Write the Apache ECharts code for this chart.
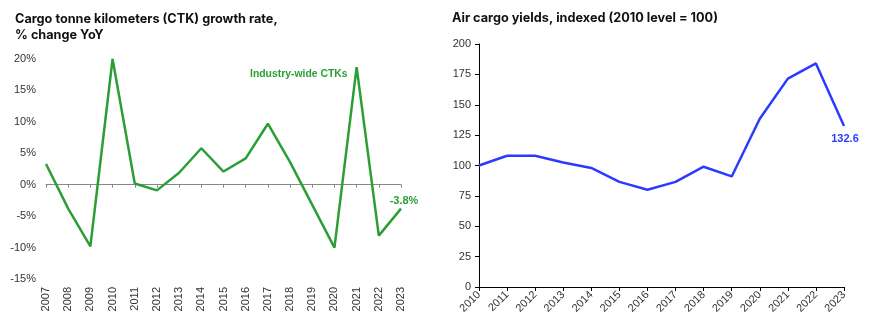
<!DOCTYPE html>
<html>
<head>
<meta charset="utf-8">
<script src="https://cdn.jsdelivr.net/npm/echarts@6/dist/echarts.min.js"></script>
<style>
html,body{margin:0;padding:0;background:#fff;}
#c{width:880px;height:326px;}
</style>
</head>
<body>
<div id="c"></div>
<script>
const ctkYears = ['2007','2008','2009','2010','2011','2012','2013','2014','2015','2016','2017','2018','2019','2020','2021','2022','2023'];
const ctkGrowth = [3.3, -3.8, -9.8, 20.0, 0.2, -0.9, 1.9, 5.8, 2.1, 4.2, 9.7, 3.6, -3.2, -10.0, 18.7, -8.1, -3.8];
const ctkTicks = [-15, 20, 5];

const yieldYears = ['2010','2011','2012','2013','2014','2015','2016','2017','2018','2019','2020','2021','2022','2023'];
const yieldIndex = [100, 108, 108, 102.5, 98, 86.5, 80, 86.5, 99, 91, 138.5, 171.5, 184, 132.6];
const yieldTicks = [0, 200, 25];

const GREEN = '#2b9e36';
const BLUE = '#2a3bff';
const LABEL = '#333';
const FONT = 'Liberation Sans, Arial, sans-serif';

const chart = echarts.init(document.getElementById('c'), null, {renderer:'canvas'});
const lastCtk = ctkGrowth.length - 1;
const lastY = yieldIndex.length - 1;

chart.setOption({
  animation: false,
  textStyle: {fontFamily: FONT},
  title: [
    {text: 'Cargo tonne kilometers (CTK) growth rate,\n% change YoY', left: 15, top: 11, padding: 0,
     textStyle: {fontFamily: 'Inter, sans-serif', fontSize: 12.7, fontWeight: 'bold', color: '#111', lineHeight: 16}},
    {text: 'Air cargo yields, indexed (2010 level = 100)', left: 452, top: 10, padding: 0,
     textStyle: {fontFamily: 'Inter, sans-serif', fontSize: 12.7, fontWeight: 'bold', color: '#111', lineHeight: 16}}
  ],
  graphic: [
    {type: 'text', left: 250, top: 69, style: {text: 'Industry-wide CTKs', fill: GREEN, font: 'bold 10.4px ' + FONT}}
  ],
  grid: [
    {left: 46, top: 59, width: 355, height: 220},
    {left: 479, top: 44, width: 365, height: 243}
  ],
  xAxis: [
    {type: 'category', gridIndex: 0, data: ctkYears, boundaryGap: false, position: 'bottom',
     axisLine: {show: false, onZero: false}, axisTick: {show: false},
     axisLabel: {rotate: 90, margin: 8, fontSize: 11, color: LABEL, interval: 0}},
    {type: 'category', gridIndex: 0, data: ctkYears, boundaryGap: false, position: 'top',
     axisLine: {show: true, onZero: true, lineStyle: {color: '#888', width: 1}},
     axisTick: {show: true, inside: true, length: 3, interval: 0, lineStyle: {color: '#888'}},
     axisLabel: {show: false}},
    {type: 'category', gridIndex: 1, data: yieldYears, boundaryGap: false,
     axisLine: {show: true, onZero: true, lineStyle: {color: '#000', width: 1}},
     axisTick: {show: true, length: 4, interval: 0, lineStyle: {color: '#000'}},
     axisLabel: {rotate: 45, margin: 6, fontSize: 11, color: LABEL, interval: 0}}
  ],
  yAxis: [
    {type: 'value', gridIndex: 0, min: ctkTicks[0], max: ctkTicks[1], interval: ctkTicks[2],
     axisLine: {show: false}, axisTick: {show: false}, splitLine: {show: false},
     axisLabel: {formatter: '{value}%', fontSize: 11, color: LABEL, margin: 10}},
    {type: 'value', gridIndex: 1, min: yieldTicks[0], max: yieldTicks[1], interval: yieldTicks[2],
     axisLine: {show: true, lineStyle: {color: '#000', width: 1}},
     axisTick: {show: true, length: 4, lineStyle: {color: '#000'}}, splitLine: {show: false},
     axisLabel: {fontSize: 11, color: LABEL, margin: 8}}
  ],
  series: [
    {type: 'line', xAxisIndex: 0, yAxisIndex: 0, data: ctkGrowth.map((v, i) => i === lastCtk ? {
        value: v, label: {show: true, position: 'top', distance: 2, offset: [3, 0], formatter: v.toFixed(1) + '%',
        color: GREEN, fontWeight: 'bold', fontSize: 11}} : v),
     showSymbol: true, symbol: 'circle', symbolSize: 0, label: {show: false},
     lineStyle: {color: GREEN, width: 2.5}, itemStyle: {color: GREEN}},
    {type: 'line', xAxisIndex: 2, yAxisIndex: 1, data: yieldIndex.map((v, i) => i === lastY ? {
        value: v, label: {show: true, position: 'bottom', distance: 8, offset: [1, 0], formatter: v.toFixed(1),
        color: BLUE, fontWeight: 'bold', fontSize: 11}} : v),
     showSymbol: true, symbol: 'circle', symbolSize: 0, label: {show: false},
     lineStyle: {color: BLUE, width: 2.5}, itemStyle: {color: BLUE}}
  ]
});
</script>
</body>
</html>
